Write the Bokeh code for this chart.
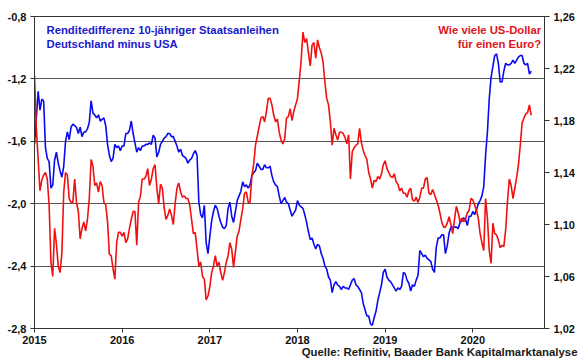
import numpy as np
from bokeh.plotting import figure
from bokeh.models import (Range1d, LinearAxis, FixedTicker, CustomJSTickFormatter,
                          Label, Title, ColumnDataSource)
from bokeh.embed import file_html
from bokeh.resources import INLINE

# ---- data: weekly readings (1/48 year grid), Jan 2015 - Sep 2020 ----
# yield spread 10y Bund minus 10y US Treasury (percentage points, left axis)
spread_de_us = [
    -1.62, -1.45, -1.28, -1.40, -1.33, -1.34, -1.64, -1.71, -1.73, -1.90, -1.88, -1.72,
    -1.67, -1.74, -1.79, -1.83, -1.76, -1.60, -1.54, -1.59, -1.51, -1.49, -1.50, -1.51,
    -1.55, -1.51, -1.57, -1.54, -1.54, -1.52, -1.48, -1.34, -1.42, -1.43, -1.45, -1.43,
    -1.47, -1.46, -1.45, -1.50, -1.62, -1.69, -1.73, -1.71, -1.62, -1.64, -1.63, -1.66,
    -1.63, -1.63, -1.55, -1.55, -1.53, -1.47, -1.55, -1.61, -1.67, -1.64, -1.66, -1.63,
    -1.63, -1.62, -1.62, -1.61, -1.62, -1.56, -1.58, -1.70, -1.67, -1.62, -1.60, -1.58,
    -1.57, -1.55, -1.55, -1.57, -1.57, -1.60, -1.63, -1.67, -1.65, -1.69, -1.70, -1.71,
    -1.74, -1.72, -1.71, -1.68, -1.66, -1.69, -1.99, -2.07, -2.09, -2.01, -2.25, -2.32,
    -2.21, -2.11, -2.05, -2.01, -2.03, -2.08, -2.12, -2.15, -2.16, -2.14, -2.03, -1.99,
    -2.08, -2.12, -2.05, -1.98, -1.95, -1.92, -1.86, -1.89, -1.88, -1.90, -1.88, -1.82,
    -1.80, -1.79, -1.74, -1.76, -1.78, -1.78, -1.75, -1.77, -1.77, -1.76, -1.82, -1.86,
    -1.88, -1.89, -1.95, -2.00, -1.98, -1.96, -1.99, -2.00, -2.04, -2.08, -2.06, -2.04,
    -1.98, -2.01, -2.02, -2.03, -2.07, -2.12, -2.18, -2.23, -2.22, -2.26, -2.29, -2.26,
    -2.27, -2.32, -2.35, -2.40, -2.42, -2.47, -2.49, -2.57, -2.52, -2.50, -2.52, -2.53,
    -2.55, -2.53, -2.54, -2.54, -2.55, -2.52, -2.49, -2.48, -2.52, -2.53, -2.55, -2.57,
    -2.64, -2.68, -2.72, -2.72, -2.77, -2.78, -2.73, -2.69, -2.62, -2.57, -2.52, -2.44,
    -2.42, -2.47, -2.49, -2.50, -2.52, -2.54, -2.56, -2.54, -2.55, -2.53, -2.44, -2.45,
    -2.49, -2.51, -2.56, -2.52, -2.53, -2.49, -2.46, -2.30, -2.32, -2.34, -2.33, -2.35,
    -2.36, -2.37, -2.42, -2.44, -2.28, -2.22, -2.22, -2.20, -2.20, -2.32, -2.27, -2.19,
    -2.15, -2.15, -2.15, -2.15, -2.16, -2.12, -2.11, -2.09, -2.10, -2.14, -2.08, -2.08,
    -2.05, -2.07, -2.04, -2.00, -1.98, -1.95, -1.89, -1.69, -1.54, -1.33, -1.19, -1.12,
    -1.05, -1.04, -1.10, -1.22, -1.22, -1.15, -1.10, -1.11, -1.11, -1.10, -1.08, -1.10,
    -1.08, -1.06, -1.05, -1.05, -1.10, -1.11, -1.10, -1.17, -1.15,
]
# EUR/USD (US dollars per euro, right axis)
eurusd = [
    1.215, 1.174, 1.150, 1.126, 1.134, 1.138, 1.140, 1.135, 1.115, 1.071, 1.060, 1.097,
    1.085, 1.068, 1.063, 1.078, 1.125, 1.140, 1.138, 1.120, 1.117, 1.117, 1.135, 1.117,
    1.110, 1.089, 1.097, 1.102, 1.095, 1.104, 1.120, 1.150, 1.145, 1.130, 1.132, 1.125,
    1.133, 1.130, 1.117, 1.115, 1.102, 1.077, 1.076, 1.066, 1.058, 1.086, 1.094, 1.094,
    1.091, 1.094, 1.086, 1.089, 1.097, 1.104, 1.110, 1.110, 1.084, 1.117, 1.122, 1.135,
    1.135, 1.137, 1.143, 1.130, 1.135, 1.143, 1.146, 1.128, 1.116, 1.131, 1.128, 1.113,
    1.104, 1.107, 1.112, 1.107, 1.100, 1.116, 1.128, 1.132, 1.125, 1.121, 1.122, 1.120,
    1.120, 1.115, 1.104, 1.093, 1.094, 1.081, 1.068, 1.071, 1.060, 1.058, 1.042, 1.045,
    1.052, 1.063, 1.068, 1.076, 1.068, 1.071, 1.063, 1.057, 1.063, 1.071, 1.076, 1.086,
    1.081, 1.067, 1.079, 1.091, 1.095, 1.104, 1.112, 1.124, 1.125, 1.117, 1.117, 1.137,
    1.146, 1.161, 1.168, 1.175, 1.182, 1.183, 1.179, 1.187, 1.197, 1.197, 1.192, 1.184,
    1.179, 1.181, 1.171, 1.165, 1.162, 1.166, 1.182, 1.183, 1.189, 1.180, 1.187, 1.192,
    1.197, 1.211, 1.226, 1.248, 1.240, 1.243, 1.232, 1.222, 1.238, 1.240, 1.228, 1.242,
    1.236, 1.232, 1.225, 1.210, 1.197, 1.192, 1.179, 1.161, 1.174, 1.169, 1.165, 1.171,
    1.171, 1.170, 1.167, 1.162, 1.169, 1.135, 1.156, 1.159, 1.161, 1.162, 1.174, 1.163,
    1.157, 1.153, 1.150, 1.140, 1.135, 1.128, 1.134, 1.133, 1.137, 1.135, 1.139, 1.146,
    1.149, 1.143, 1.140, 1.137, 1.136, 1.139, 1.133, 1.131, 1.126, 1.128, 1.124, 1.124,
    1.121, 1.126, 1.128, 1.119, 1.118, 1.121, 1.117, 1.121, 1.128, 1.128, 1.135, 1.136,
    1.124, 1.123, 1.127, 1.123, 1.119, 1.115, 1.109, 1.102, 1.098, 1.098, 1.101, 1.106,
    1.100, 1.093, 1.104, 1.114, 1.109, 1.102, 1.105, 1.102, 1.104, 1.109, 1.111, 1.120,
    1.119, 1.115, 1.111, 1.105, 1.093, 1.086, 1.080, 1.120, 1.105, 1.080, 1.070, 1.101,
    1.093, 1.092, 1.088, 1.082, 1.084, 1.083, 1.096, 1.118, 1.135, 1.130, 1.120, 1.128,
    1.136, 1.146, 1.161, 1.178, 1.182, 1.185, 1.186, 1.192, 1.184,
]
t_spread = 2015 + np.arange(len(spread_de_us)) / 48.0   # weekly sample grid
t_fx = 2015 + np.arange(len(eurusd)) / 48.0

year_ticks = [2015, 2016, 2017, 2018, 2019, 2020]
left_ticks = [-2.8, -2.4, -2.0, -1.6, -1.2, -0.8]
right_ticks = [1.02, 1.06, 1.10, 1.14, 1.18, 1.22, 1.26]

FONT = "Liberation Sans"
BLUE = "#0a0af0"
RED = "#f01010"

p = figure(width=579, height=358, output_backend="svg", toolbar_location=None,
           x_range=Range1d(2015, 2020.818), y_range=Range1d(-2.8, -0.8),
           min_border_left=34, min_border_right=35, min_border_top=16,
           min_border_bottom=20)
p.extra_y_ranges = {"fx": Range1d(1.02, 1.26)}
p.background_fill_color = "white"
p.border_fill_color = "white"
p.outline_line_color = "#333333"
p.outline_line_width = 1

for ax in (p.xaxis[0], p.yaxis[0]):
    ax.major_label_text_font = FONT
    ax.major_label_text_font_style = "bold"
    ax.major_label_text_font_size = "11px"
    ax.major_label_text_color = "#111111"
    ax.axis_line_color = "#333333"
    ax.major_tick_line_color = "#333333"
    ax.minor_tick_line_color = None
    ax.major_tick_in = 0
    ax.major_tick_out = 4

p.xaxis[0].ticker = FixedTicker(ticks=year_ticks)
p.xaxis[0].formatter = CustomJSTickFormatter(code="return tick.toFixed(0);")
p.xaxis[0].major_label_standoff = 3
p.yaxis[0].ticker = FixedTicker(ticks=left_ticks)
p.yaxis[0].formatter = CustomJSTickFormatter(code="return tick.toFixed(1).replace('.', ',');")
p.yaxis[0].major_label_standoff = 4

rax = LinearAxis(y_range_name="fx", ticker=FixedTicker(ticks=right_ticks),
                 formatter=CustomJSTickFormatter(code="return tick.toFixed(2).replace('.', ',');"))
rax.major_label_text_font = FONT
rax.major_label_text_font_style = "bold"
rax.major_label_text_font_size = "11px"
rax.major_label_text_color = "#111111"
rax.axis_line_color = "#333333"
rax.major_tick_line_color = "#333333"
rax.minor_tick_line_color = None
rax.major_tick_in = 0
rax.major_tick_out = 5
rax.major_label_standoff = 4
p.add_layout(rax, "right")

p.xgrid.grid_line_color = None
p.ygrid.ticker = FixedTicker(ticks=left_ticks)
p.ygrid.grid_line_color = "#555555"
p.ygrid.grid_line_width = 1

src_a = ColumnDataSource(dict(t=t_spread, v=spread_de_us))
src_b = ColumnDataSource(dict(t=t_fx, v=eurusd))
p.line("t", "v", source=src_a, line_color=BLUE, line_width=1.6)
p.line("t", "v", source=src_b, line_color=RED, line_width=1.6, y_range_name="fx")

def add_label(text, x, y, color, align="left", size="11.3px"):
    p.add_layout(Label(x=x, y=y, text=text, text_font=FONT, text_font_style="bold",
                       text_font_size=size, text_color=color, text_align=align,
                       text_baseline="alphabetic"))

add_label("Renditedifferenz 10-jähriger Staatsanleihen", 2015.137, -0.887, "#1a1acc")
add_label("Deutschland minus USA", 2015.137, -0.974, "#1a1acc")
add_label("Wie viele US-Dollar", 2020.78, -0.887, "#e0141c", align="right")
add_label("für einen Euro?", 2020.78, -0.974, "#e0141c", align="right")

source_note = Title(text="Quelle: Refinitiv, Baader Bank Kapitalmarktanalyse",
                    align="right", vertical_align="top", offset=-33, standoff=-2,
                    text_font=FONT, text_font_style="bold", text_font_size="11.4px",
                    text_color="#1a1a1a")
p.add_layout(source_note, "below")

open("out.html", "w").write(file_html(p, INLINE))
